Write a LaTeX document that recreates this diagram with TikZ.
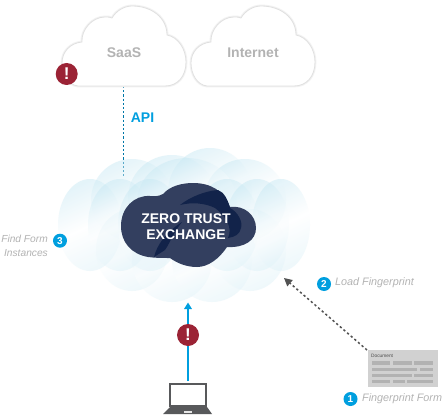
\documentclass[tikz,border=0pt]{standalone}
\usepackage{fontspec}
\setmainfont{Liberation Sans}
\usetikzlibrary{arrows.meta}
\definecolor{zred}{HTML}{9B2335}
\definecolor{zblue}{HTML}{009FDF}
\definecolor{znavy}{HTML}{333F5F}
\definecolor{zdeep}{HTML}{12234A}
\definecolor{zgray}{HTML}{B3B3B3}
\definecolor{zhaze}{HTML}{C4E7F3}
\definecolor{zlap}{HTML}{58595B}
\tikzset{
  cloudfill/.style={fill=white,draw=black!12,line width=.8pt},
  cloudglow/.style={draw=black!5,line width=2.8pt},
  puff/.style={shading=axis,top color=zhaze,bottom color=zhaze!60,middle color=white,shading angle=25,fill opacity=.45,draw=none},
  alertbadge/.style={circle,fill=zred,text=white,minimum size=22pt,inner sep=0pt,font=\bfseries\fontsize{17}{17}\selectfont},
  stepbadge/.style={circle,fill=zblue,text=white,minimum size=14pt,inner sep=0pt,font=\bfseries\fontsize{10}{10}\selectfont},
  note/.style={text=zgray,font=\itshape\fontsize{10.8}{12}\selectfont,inner sep=0pt},
  sidenote/.style={text=zgray,font=\itshape\fontsize{10.2}{12}\selectfont,inner sep=0pt},
  cloudtext/.style={text=zgray,font=\bfseries\fontsize{14}{14}\selectfont,inner sep=0pt},
  bar/.style={fill=black!30,draw=none},
}
\newcommand{\skyoutline}{(38,86) .. controls (28,85) and (22,74) .. (22,63)
    .. controls (22,52) and (30,43) .. (42,42)
    .. controls (41,30) and (52,17) .. (65,17)
    .. controls (68,17) and (70,17) .. (72,18)
    .. controls (76,11) and (84,6) .. (92,6)
    .. controls (112,6) and (127,18) .. (127,35)
    .. controls (138,37) and (146,49) .. (146,62)
    .. controls (146,76) and (138,86) .. (125,86) -- cycle}
\newcommand{\skycloud}[1]{%
  \path[shift={(#1,0)},cloudglow] \skyoutline;
  \path[shift={(#1,0)},cloudfill] \skyoutline;
}
\begin{document}
\begin{tikzpicture}[x=1pt,y=-1pt]
\useasboundingbox (0,0) rectangle (446,414);
\fill[white] (0,0) rectangle (446,414);
% connector under the cloud
\coordinate (saasfoot) at (123.5,86);
\coordinate (zteneck) at (123.5,178);
\draw[zblue!75!black,line width=.8pt,dash pattern=on 2.2pt off 2pt] (saasfoot) -- (zteneck);
% sky clouds
\skycloud{40}
\skycloud{169}
\node[cloudtext] (saas) at (124,53) {SaaS};
\node[cloudtext] (internet) at (253,53) {Internet};
\node[alertbadge] (alertsaas) at (66.7,74) {!};
\node[text=zblue,font=\bfseries\fontsize{14}{14}\selectfont,inner sep=0pt] (api) at (142.5,118) {API};
% haze cloud
\foreach \cx/\cy/\rx/\ry in {
 132/200/41/41, 172/198/44/43, 210/192/42/44, 245/200/41/41,
 187/202/50/44,
 132/250/36/41, 172/260/40/42, 212/260/40/42, 250/250/36/41,
 90/225/32/46, 120/225/32/46, 150/225/32/46,
 227/225/32/46, 257/225/32/46, 281/225/29/46}
  \path[puff] (\cx,\cy) ellipse [x radius=\rx,y radius=\ry];
% dark core
\path[fill=znavy] (121,226) .. controls (121,208) and (134,195) .. (150,196)
  .. controls (153,196) and (158,197) .. (163,194)
  .. controls (170,186) and (182,183) .. (193,183)
  .. controls (211,183) and (224,191) .. (230,207)
  .. controls (244,205) and (256,215) .. (256,228)
  .. controls (256,240) and (245,248) .. (227,247)
  .. controls (219,259) and (208,267) .. (197,267)
  .. controls (186,267) and (177,263) .. (170,258)
  .. controls (162,258) and (155,258) .. (148,257)
  .. controls (131,254) and (121,242) .. (121,226) -- cycle;
\path[fill=zdeep] (180,205) .. controls (190,197) and (205,191) .. (218,190)
  .. controls (224,192) and (228,200) .. (230,208)
  .. controls (238,212) and (243,222) .. (241,228)
  .. controls (240,234) and (235,237) .. (228,238)
  .. controls (233,228) and (226,216) .. (215,208)
  .. controls (205,203) and (192,202) .. (180,205) -- cycle;
\path[fill=zdeep] (154,257) .. controls (157,245) and (166,232) .. (182,222)
  .. controls (173,233) and (170,243) .. (165,250) -- cycle;
\node[text=white,font=\bfseries\fontsize{14}{16}\selectfont,align=center,inner sep=0pt] (zte) at (186,227) {ZERO TRUST\\EXCHANGE};
\coordinate (ztefoot) at (188,302.5);
\coordinate (zteside) at (284,278);
% laptop
\node[draw=zlap,line width=2.2pt,fill=white,minimum width=36pt,minimum height=22pt,inner sep=0pt] (screen) at (188,395) {};
\path[fill=zlap] (170,407) -- (207,407) -- (212,414) -- (163,414) -- cycle;
\path[fill=white!85!zlap] (184,411) rectangle (192,413);
\coordinate (laptoptop) at (188,381);
\draw[zblue,line width=1.7pt,-{Triangle[length=6.5pt,width=7.5pt]}] (laptoptop) -- (ztefoot);
\node[alertbadge] (alertuser) at (188,335) {!};
% document
\node[fill=black!18,draw=none,minimum width=70pt,minimum height=36.5pt,inner sep=0pt] (doc) at (402.5,368.7) {};
\node[anchor=west,inner sep=0pt,text=black!70,font=\fontsize{4.8}{5}\selectfont] (doctitle) at (371,355.7) {Document};
\foreach \a/\b/\y in {372/390/363, 393/412/363, 414/433/363,
  372/417/369.3, 420/433/369.3,
  372/412/375.7, 414/433/375.7,
  372/390/381.7, 393/405/381.7, 407/433/381.7}
  \path[bar] (\a,\y-1.7) rectangle (\b,\y+1.7);
\coordinate (doccorner) at (367,350);
\draw[black!68,line width=1.5pt,dash pattern=on 2.3pt off 2.5pt,-{Triangle[length=8pt,width=8pt]}] (doccorner) -- (zteside);
% step labels
\node[stepbadge] (s3) at (60,240.7) {3};
\node[sidenote,anchor=east] (find) at (48,239) {Find Form};
\node[sidenote,anchor=east] (inst) at (48,253) {Instances};
\node[stepbadge] (s2) at (324,284) {2};
\node[note,anchor=west] (load) at (335,283) {Load Fingerprint};
\node[stepbadge] (s1) at (350.5,399) {1};
\node[note,anchor=west] (fpf) at (362,399) {Fingerprint Form};
\end{tikzpicture}
\end{document}
